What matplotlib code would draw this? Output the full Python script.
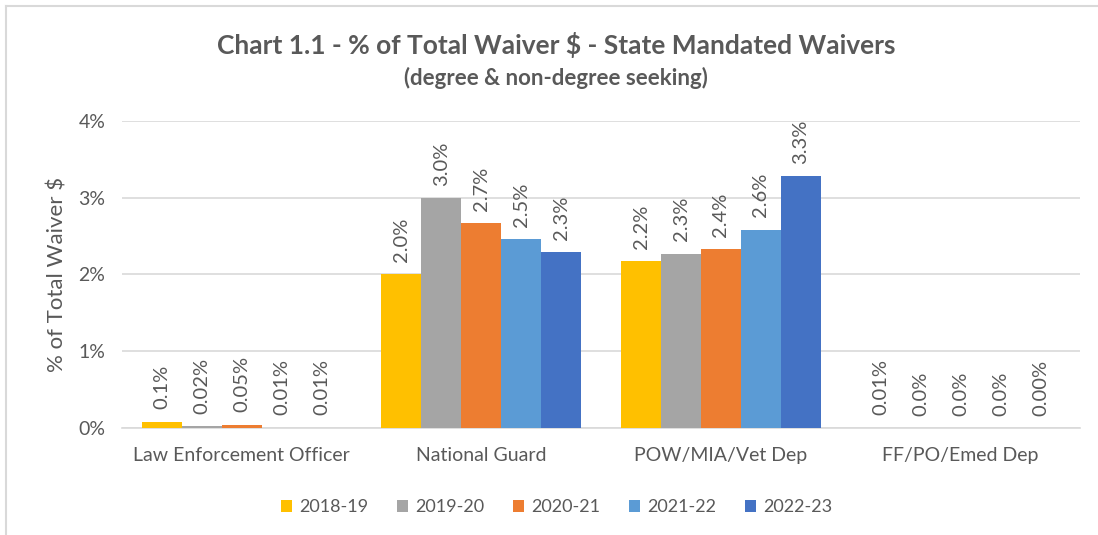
import matplotlib.pyplot as plt
import numpy as np

plt.rcParams['font.family'] = ['Lato', 'DejaVu Sans']

categories = ['Law Enforcement Officer', 'National Guard', 'POW/MIA/Vet Dep', 'FF/PO/Emed Dep']
years = ['2018-19', '2019-20', '2020-21', '2021-22', '2022-23']
colors = ['#ffc000', '#a5a5a5', '#ed7d31', '#5b9bd5', '#4472c4']

# % of total waiver $, one list per year
v_2018 = [0.08, 2.00, 2.17, 0.005]
v_2019 = [0.02, 2.99, 2.27, 0.00]
v_2020 = [0.04, 2.67, 2.33, 0.00]
v_2021 = [0.005, 2.46, 2.58, 0.00]
v_2022 = [0.005, 2.29, 3.28, 0.00]
values = [v_2018, v_2019, v_2020, v_2021, v_2022]

# data labels as printed on the chart
lab_2018 = ['0.1%', '2.0%', '2.2%', '0.01%']
lab_2019 = ['0.02%', '3.0%', '2.3%', '0.0%']
lab_2020 = ['0.05%', '2.7%', '2.4%', '0.0%']
lab_2021 = ['0.01%', '2.5%', '2.6%', '0.0%']
lab_2022 = ['0.01%', '2.3%', '3.3%', '0.00%']
labels = [lab_2018, lab_2019, lab_2020, lab_2021, lab_2022]

txt = '#595959'
fig = plt.figure(figsize=(10.98, 5.35), dpi=100)
ax = fig.add_axes([0.111, 0.200, 0.873, 0.574])

x = np.arange(len(categories))
w = 1 / 6
for i in range(len(years)):
    pos = x - 2 * w + i * w
    bars = ax.bar(pos, values[i], w, color=colors[i], label=years[i], zorder=3)
    for b, lab in zip(bars, labels[i]):
        ax.annotate(lab, (b.get_x() + w / 2, b.get_height()), xytext=(0, 9),
                    textcoords='offset points', rotation=90, ha='center', va='bottom',
                    fontsize=14.5, color=txt)

ax.set_xlim(-0.5, 3.5)
ax.set_ylim(0, 4)
ax.set_yticks([0, 1, 2, 3, 4])
ax.set_yticklabels(['0%', '1%', '2%', '3%', '4%'])
ax.set_xticks(x)
ax.set_xticklabels(categories)
ax.tick_params(length=0, labelsize=14, colors=txt)
ax.tick_params(axis='y', pad=12)
ax.tick_params(axis='x', pad=14)
ax.grid(axis='y', color='#d9d9d9', linewidth=1.2, zorder=0)
for s in ['top', 'right', 'left']:
    ax.spines[s].set_visible(False)
ax.spines['bottom'].set_color('#d9d9d9')
ax.spines['bottom'].set_linewidth(1.2)
ax.set_ylabel('% of Total Waiver $', fontsize=16, color=txt, labelpad=8)

fig.text(0.507, 0.915, 'Chart 1.1 - % of Total Waiver $ - State Mandated Waivers',
         ha='center', va='center', fontsize=19, fontweight='bold', color=txt)
fig.text(0.506, 0.855, '(degree & non-degree seeking)',
         ha='center', va='center', fontsize=16, fontweight='bold', color=txt)

ax.legend(loc='center', bbox_to_anchor=(0.507, 0.052), bbox_transform=fig.transFigure,
          ncol=5, frameon=False, fontsize=13, handlelength=0.6, handleheight=0.6,
          handletextpad=0.4, columnspacing=1.6, labelcolor=txt)

# chart border (top and left visible)
fig.add_artist(plt.Line2D([0.0055, 0.0055], [0, 0.989], color='#d9d9d9', linewidth=1.5))
fig.add_artist(plt.Line2D([0.0055, 1], [0.989, 0.989], color='#d9d9d9', linewidth=1.5))

fig.savefig('out.png', dpi=100)
